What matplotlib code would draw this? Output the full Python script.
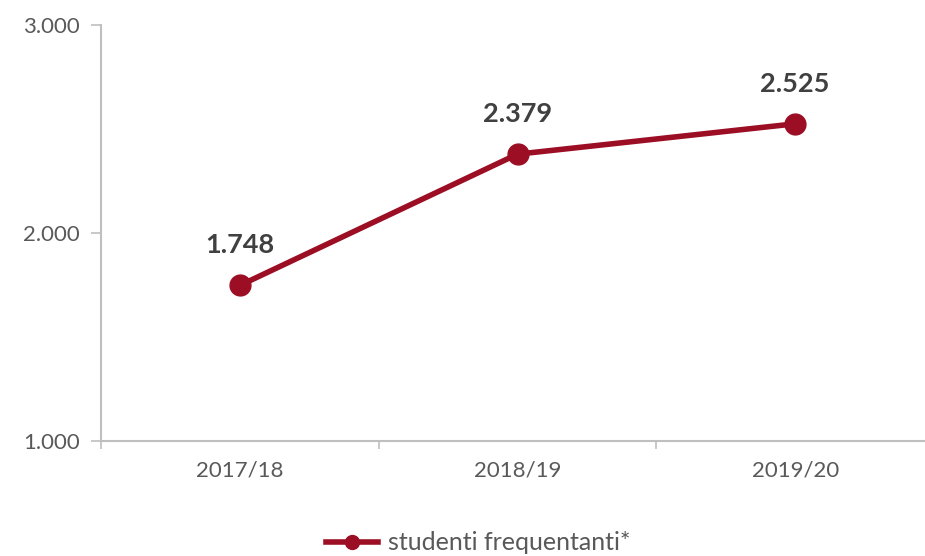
import matplotlib.pyplot as plt
from matplotlib.lines import Line2D
from matplotlib.ticker import FuncFormatter, FixedLocator

# dati
anni = ['2017/18', '2018/19', '2019/20']
studenti = [1748, 2379, 2525]
etichette = ['1.748', '2.379', '2.525']

rosso = '#9B0E24'
grigio = '#BFBFBF'
testo = '#595959'

plt.rcParams['font.family'] = ['Lato', 'DejaVu Sans']

fig = plt.figure(figsize=(9.25, 5.56), dpi=100)
ax = fig.add_axes([101 / 925, 1 - 441 / 556, 833 / 925, 416 / 556])

x = list(range(len(anni)))
ax.plot(x, studenti, color=rosso, lw=4, marker='o', ms=15, zorder=3)

for xi, yi, t in zip(x, studenti, etichette):
    ax.annotate(t, (xi, yi), xytext=(0, 29), textcoords='offset points',
                ha='center', va='center', fontsize=19.5, fontweight='bold', color='#404040')

ax.set_xlim(-0.5, 2.5)
ax.set_ylim(1000, 3000)
ax.set_yticks([1000, 2000, 3000])
ax.yaxis.set_major_formatter(FuncFormatter(lambda v, p: f'{int(v):,}'.replace(',', '.')))
ax.set_xticks(x)
ax.set_xticklabels(anni)
ax.xaxis.set_minor_locator(FixedLocator([-0.5, 0.5, 1.5, 2.5]))
ax.tick_params(axis='x', which='major', length=0, pad=14, labelsize=16, labelcolor=testo)
ax.tick_params(axis='x', which='minor', length=6, color=grigio, width=1.2)
ax.tick_params(axis='y', length=7, color=grigio, width=1.2, pad=8, labelsize=16, labelcolor=testo)

for s in ['top', 'right']:
    ax.spines[s].set_visible(False)
for s in ['left', 'bottom']:
    ax.spines[s].set_color(grigio)
    ax.spines[s].set_linewidth(1.5)

handle = Line2D([], [], color=rosso, lw=4, marker='o', ms=10)
leg = ax.legend([handle], ['studenti frequentanti*'], loc='center',
                bbox_to_anchor=(478 / 925, 1 - 543 / 556), bbox_transform=fig.transFigure,
                frameon=False, fontsize=18, handlelength=2.1, handletextpad=0.4)
for t in leg.get_texts():
    t.set_color(testo)

fig.savefig('out.png', dpi=100)
